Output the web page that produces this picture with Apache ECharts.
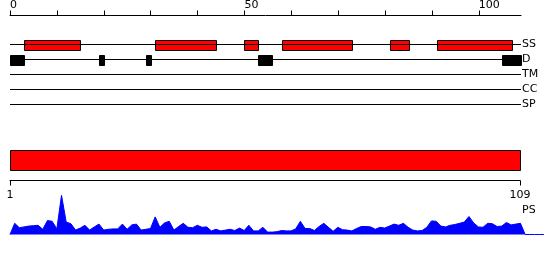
<!DOCTYPE html>
<html><head><meta charset="utf-8">
<script src="https://cdn.jsdelivr.net/npm/echarts@6/dist/echarts.min.js"></script>
<style>html,body{margin:0;padding:0;background:#fff}#c{width:550px;height:260px}</style>
</head><body><div id="c"></div>
<script>
// ---- data ----
const seqLength = 109;
const rulerTicks = [0, 10, 20, 30, 40, 50, 60, 70, 80, 90, 100];
const rulerLabels = [0, 50, 100];
const trackNames = ['SS', 'D', 'TM', 'CC', 'SP'];
const ssRegions = [[3, 15], [31, 44], [50, 53], [58, 73], [81, 85], [91, 107]];
const disorderRegions = [[0, 3], [19, 20], [29, 30], [53, 56], [105, 109]];
const domainRegions = [[1, 109]];
const domainTicks = [1, 109];
const psValues = [
  0.00, 0.28, 0.17, 0.19, 0.21, 0.22, 0.23, 0.13, 0.35, 0.33,
  0.14, 0.98, 0.31, 0.27, 0.11, 0.16, 0.23, 0.11, 0.19, 0.26,
  0.11, 0.13, 0.14, 0.14, 0.26, 0.13, 0.24, 0.26, 0.11, 0.13,
  0.15, 0.44, 0.18, 0.29, 0.33, 0.11, 0.20, 0.28, 0.18, 0.17,
  0.23, 0.18, 0.19, 0.09, 0.13, 0.09, 0.11, 0.13, 0.10, 0.16,
  0.10, 0.23, 0.09, 0.09, 0.18, 0.06, 0.06, 0.07, 0.10, 0.09,
  0.09, 0.14, 0.33, 0.15, 0.15, 0.10, 0.20, 0.28, 0.18, 0.08,
  0.18, 0.12, 0.11, 0.09, 0.15, 0.20, 0.20, 0.19, 0.13, 0.18,
  0.16, 0.21, 0.26, 0.23, 0.28, 0.18, 0.11, 0.09, 0.10, 0.18,
  0.34, 0.33, 0.21, 0.19, 0.23, 0.25, 0.28, 0.31, 0.45, 0.29,
  0.19, 0.18, 0.28, 0.27, 0.20, 0.21, 0.30, 0.24, 0.26, 0.28,
  0.00, 0.00, 0.00, 0.00, 0.00
];

// ---- chart ----
const FONT = 'DejaVu Sans';
const chart = echarts.init(document.getElementById('c'), null, {renderer: 'canvas'});

function boxSeries(regions, trackIdx, fill) {
  return {
    type: 'custom', xAxisIndex: 1, yAxisIndex: 1,
    data: regions,
    renderItem: function (params, api) {
      const s = api.coord([api.value(0), trackIdx]);
      const e = api.coord([api.value(1), trackIdx]);
      return {type: 'rect', shape: {x: Math.round(s[0]) + 0.5, y: Math.round(s[1]) - 4.5, width: Math.round(e[0] - s[0]), height: 10},
        style: {fill: fill, stroke: '#000', lineWidth: 1}};
    }
  };
}
function trackLine(idx) {
  return {type: 'line', xAxisIndex: 1, yAxisIndex: 1, symbol: 'none', silent: true,
    lineStyle: {color: '#000', width: 1}, data: [[0, idx], [seqLength, idx]]};
}

const option = {
  animation: false,
  backgroundColor: '#fff',
  grid: [
    {left: 10, width: 511, top: 14.5, height: 1, outerBoundsMode: 'none'},
    {left: 10, width: 511, top: 29.5, height: 75, outerBoundsMode: 'none'},
    {left: 10, width: 510, top: 150, height: 30.5, outerBoundsMode: 'none'},
    {left: 10, width: 533.9, top: 194.5, height: 40, outerBoundsMode: 'none'}
  ],
  xAxis: [
    {gridIndex: 0, type: 'value', position: 'top', min: 0, max: seqLength,
      axisLine: {show: true, lineStyle: {color: '#000', width: 1}},
      axisTick: {show: true, length: 5, customValues: rulerTicks, lineStyle: {color: '#000'}},
      axisLabel: {show: true, customValues: rulerLabels, align: 'left', margin: 4, color: '#000', fontFamily: FONT, fontSize: 11},
      splitLine: {show: false}},
    {gridIndex: 1, type: 'value', min: 0, max: seqLength, show: false},
    {gridIndex: 2, type: 'value', position: 'bottom', min: 1, max: seqLength,
      axisLine: {show: true, lineStyle: {color: '#000', width: 1}},
      axisTick: {show: true, length: 5, customValues: domainTicks, lineStyle: {color: '#000'}},
      axisLabel: {show: true, customValues: domainTicks, margin: 9, color: '#000', fontFamily: FONT, fontSize: 11},
      splitLine: {show: false}},
    {gridIndex: 3, type: 'value', min: 0, max: psValues.length - 1, show: false}
  ],
  yAxis: [
    {gridIndex: 0, type: 'value', show: false},
    {gridIndex: 1, type: 'value', min: 0, max: 5, inverse: true, position: 'right',
      axisLine: {show: false}, axisTick: {show: false}, splitLine: {show: false},
      axisLabel: {show: true, customValues: [1, 2, 3, 4, 5], margin: 1, align: 'left', color: '#000', fontFamily: FONT, fontSize: 11,
        formatter: v => trackNames[v - 1]}},
    {gridIndex: 2, type: 'value', min: 0, max: 1, show: false},
    {gridIndex: 3, type: 'value', min: 0, max: 1, show: false}
  ],
  graphic: [
    {type: 'text', left: 522, top: 205, style: {text: 'PS', fill: '#000', font: '11px "DejaVu Sans"'}}
  ],
  series: [
    trackLine(1), trackLine(2), trackLine(3), trackLine(4), trackLine(5),
    boxSeries(ssRegions, 1, '#ff0000'),
    boxSeries(disorderRegions, 2, '#000000'),
    {type: 'custom', xAxisIndex: 2, yAxisIndex: 2, data: domainRegions,
      renderItem: function (params, api) {
        const s = api.coord([api.value(0), 0]);
        const e = api.coord([api.value(1), 0]);
        const top = params.coordSys.y;
        return {type: 'rect', shape: {x: Math.round(s[0]) + 0.5, y: top + 0.5, width: Math.round(e[0] - s[0]), height: 20},
          style: {fill: '#ff0000', stroke: '#000', lineWidth: 1}};
      }},
    {type: 'line', xAxisIndex: 3, yAxisIndex: 3, symbol: 'none', smooth: false,
      lineStyle: {color: '#0000ff', width: 1}, areaStyle: {color: '#0000ff', opacity: 1},
      data: psValues.map((v, i) => [i, v])}
  ]
};
chart.setOption(option);
</script></body></html>
